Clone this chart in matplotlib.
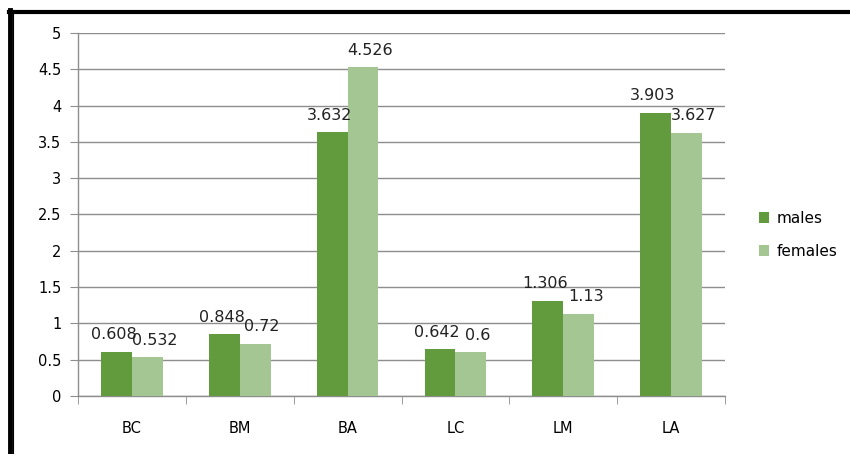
import matplotlib
matplotlib.use('Agg')
import matplotlib.pyplot as plt
from matplotlib.lines import Line2D
import numpy as np

categories = ['BC', 'BM', 'BA', 'LC', 'LM', 'LA']
males = [0.608, 0.848, 3.632, 0.642, 1.306, 3.903]
females = [0.532, 0.72, 4.526, 0.6, 1.13, 3.627]
male_labels = ['0.608', '0.848', '3.632', '0.642', '1.306', '3.903']
female_labels = ['0.532', '0.72', '4.526', '0.6', '1.13', '3.627']

c_male = '#629a3e'
c_female = '#a3c692'
grid_c = '#8e8e8e'

fig = plt.figure(figsize=(8.5, 4.54), dpi=100)
ax = fig.add_axes([78/850, 58/454, (725-78)/850, (396-33)/454])

x = np.arange(len(categories))
w = 0.286
b1 = ax.bar(x - w/2, males, w, color=c_male, zorder=3)
b2 = ax.bar(x + w/2, females, w, color=c_female, zorder=3)

# data labels, slightly pushed apart like Excel does
for rect, lab in zip(b1, male_labels):
    ax.annotate(lab, (rect.get_x() + rect.get_width()/2, rect.get_height()),
                xytext=(-2, 7), textcoords='offset points',
                ha='center', va='bottom', fontsize=11.5, color='#222222', zorder=4)
for rect, lab in zip(b2, female_labels):
    ax.annotate(lab, (rect.get_x() + rect.get_width()/2, rect.get_height()),
                xytext=(5, 7), textcoords='offset points',
                ha='center', va='bottom', fontsize=11.5, color='#222222', zorder=4)

ax.set_xlim(-0.5, len(categories) - 0.5)
ax.set_ylim(0, 5)
ax.set_yticks(np.arange(0, 5.01, 0.5))
ax.set_yticklabels(['0', '0.5', '1', '1.5', '2', '2.5', '3', '3.5', '4', '4.5', '5'])
ax.yaxis.grid(True, color=grid_c, linewidth=1, zorder=0)
ax.set_axisbelow(True)

ax.set_xticks(x)
ax.set_xticklabels(categories)
ax.set_xticks(np.arange(-0.5, len(categories), 1), minor=True)
ax.tick_params(axis='x', which='major', length=0, pad=18, labelsize=10.5)
ax.tick_params(axis='x', which='minor', length=6, color=grid_c, direction='out')
ax.tick_params(axis='y', length=6, color=grid_c, labelsize=10.5, pad=6)

for s in ['top', 'right']:
    ax.spines[s].set_visible(False)
for s in ['left', 'bottom']:
    ax.spines[s].set_color(grid_c)
    ax.spines[s].set_linewidth(1)

ax.legend([b1, b2], ['males', 'females'], loc='center left',
          bbox_to_anchor=(745/850, 1 - 235/454), bbox_transform=fig.transFigure,
          frameon=False, fontsize=11, handlelength=0.7, handleheight=0.7,
          labelspacing=1.2, handletextpad=0.5)

# outer frame
fig.add_artist(Line2D([10/850, 10/850], [0, 1 - 10/454], color='black', linewidth=3.5,
                      transform=fig.transFigure))
fig.add_artist(Line2D([13.5/850, 13.5/850], [0, 1 - 13/454], color='black', linewidth=0.8,
                      transform=fig.transFigure))
fig.add_artist(Line2D([9/850, 1], [1 - 11.5/454, 1 - 11.5/454], color='black', linewidth=3,
                      transform=fig.transFigure))

fig.savefig('out.png', dpi=100)
